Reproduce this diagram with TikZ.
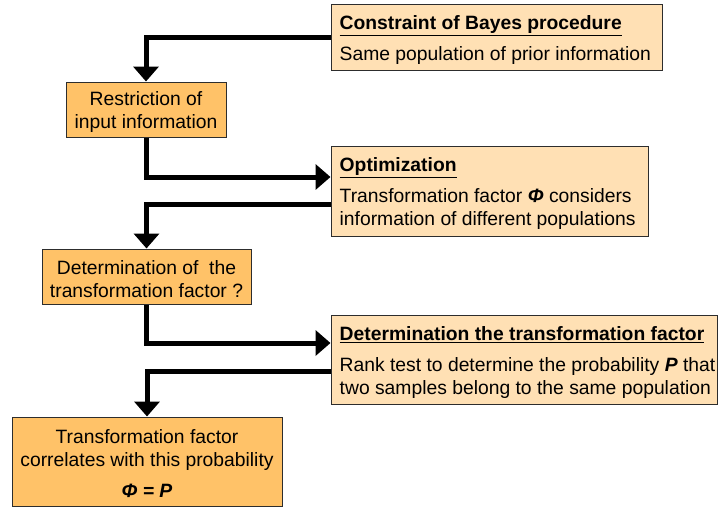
\documentclass[tikz,border=0pt]{standalone}
\usepackage{fontspec}
\setmainfont{Liberation Sans}
\usetikzlibrary{arrows.meta}
\definecolor{orangefill}{RGB}{255,194,104}
\definecolor{lightfill}{RGB}{255,224,180}
\definecolor{boxline}{RGB}{45,45,45}
\tikzset{
  basebox/.style={draw=boxline, line width=1pt, inner sep=0pt},
  lightbox/.style={basebox, fill=lightfill},
  orangebox/.style={basebox, fill=orangefill},
  boxtext/.style={inner sep=0pt, anchor=west, align=left, font=\fontsize{19.3}{23}\selectfont},
  ctext/.style={inner sep=0pt, align=center, font=\fontsize{19.3}{23}\selectfont},
  flow/.style={line width=5pt, -{Triangle[length=15pt,width=25pt]}}
}
\newcommand{\ttl}[1]{\underline{\textbf{#1}}}
\begin{document}
\begin{tikzpicture}[x=1pt,y=-1pt]
\useasboundingbox (0,0) rectangle (719,507);
\node[lightbox, minimum width=331pt, minimum height=66pt] (b1) at (496.5,37) {};
\node[boxtext] (t1) at ([xshift=9pt,yshift=-3pt]b1.west)
  {\ttl{Constraint of Bayes procedure}\\[8pt]Same population of prior information};
\node[orangebox, minimum width=160pt, minimum height=55pt] (b2) at (146,109.5) {};
\node[ctext] (t2) at ([yshift=-2.5pt]b2.center) {Restriction of\\input information};
\node[lightbox, minimum width=317pt, minimum height=90pt] (b3) at (489.5,191) {};
\node[boxtext] (t3) at ([xshift=9pt,yshift=-3pt]b3.west)
  {\ttl{Optimization}\\[8pt]Transformation factor \textbf{\textit{Φ}} considers\\information of different populations};
\node[orangebox, minimum width=209pt, minimum height=55pt] (b4) at (146.5,276.5) {};
\node[ctext] (t4) at ([yshift=-2.5pt]b4.center) {Determination of\ \ the\\transformation factor ?};
\node[lightbox, minimum width=386pt, minimum height=89pt] (b5) at (524,359.5) {};
\node[boxtext] (t5) at ([xshift=9pt,yshift=-3pt]b5.west)
  {\ttl{Determination the transformation factor}\\[8pt]Rank test to determine the probability \textbf{\textit{P}} that\\two samples belong to the same population};
\node[orangebox, minimum width=270pt, minimum height=89pt] (b6) at (147,461.5) {};
\node[ctext] (t6) at ([yshift=-2.5pt]b6.center)
  {Transformation factor\\correlates with this probability\\[8pt]\textbf{\textit{Φ = P}}};
\draw[flow] (b1.west) -| (b2.north);
\draw[flow] (b2.south) |- ([yshift=14pt]b3.west);
\draw[flow] ([yshift=-13pt]b3.west) -| (b4.north);
\draw[flow] (b4.south) |- ([yshift=16.5pt]b5.west);
\draw[flow] ([yshift=-11.5pt]b5.west) -| (b6.north);
\end{tikzpicture}
\end{document}
